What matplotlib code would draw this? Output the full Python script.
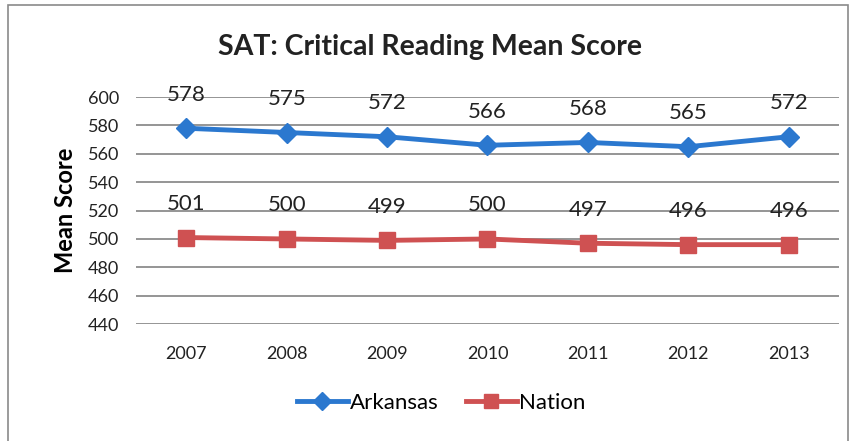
import matplotlib.pyplot as plt
from matplotlib.patches import Rectangle

# data
years = ["2007", "2008", "2009", "2010", "2011", "2012", "2013"]
arkansas = [578, 575, 572, 566, 568, 565, 572]
nation = [501, 500, 499, 500, 497, 496, 496]
yticks = [440, 460, 480, 500, 520, 540, 560, 580, 600]

plt.rcParams["font.family"] = ["Lato", "DejaVu Sans"]

fig = plt.figure(figsize=(8.56, 4.41), dpi=100)
ax = fig.add_axes([0.159, 0.265, 0.821, 0.515])

# frame around the whole chart
fig.patches.append(Rectangle((0.009, -0.01), 0.982, 0.999, transform=fig.transFigure,
                             fill=False, edgecolor="#8a8a8a", linewidth=1.2))

x = list(range(len(years)))
blue = "#2B78CF"
red = "#CF5152"
ax.plot(x, arkansas, color=blue, lw=3.5, marker="D", ms=10, label="Arkansas", zorder=3)
ax.plot(x, nation, color=red, lw=3.5, marker="s", ms=11, label="Nation", zorder=3)

for i in x:
    ax.annotate(str(arkansas[i]), (i, arkansas[i]), xytext=(0, 17), textcoords="offset points",
                ha="center", va="bottom", fontsize=16, color="#222222")
    ax.annotate(str(nation[i]), (i, nation[i]), xytext=(0, 17), textcoords="offset points",
                ha="center", va="bottom", fontsize=16, color="#222222")

ax.set_xlim(-0.5, len(years) - 0.5)
ax.set_ylim(440, 600)
ax.set_yticks(yticks)
ax.set_xticks(x)
ax.set_xticklabels(years)
ax.tick_params(axis="both", length=0, labelsize=13, colors="#222222")
ax.tick_params(axis="y", pad=12)
ax.tick_params(axis="x", pad=16)
ax.yaxis.grid(True, color="#8c8c8c", lw=1.3)
ax.set_axisbelow(True)
for s in ax.spines.values():
    s.set_visible(False)

ax.set_ylabel("Mean Score", fontsize=17, fontweight="bold", labelpad=8)
fig.text(0.502, 0.893, "SAT: Critical Reading Mean Score", ha="center", va="center",
         fontsize=20.5, fontweight="bold", color="#222222")

ax.legend(loc="upper center", bbox_to_anchor=(0.434, -0.215), ncol=2, frameon=False,
          fontsize=16, handlelength=2.3, handletextpad=0.1, columnspacing=1.2,
          markerscale=0.9)

fig.savefig("out.png", dpi=100)
